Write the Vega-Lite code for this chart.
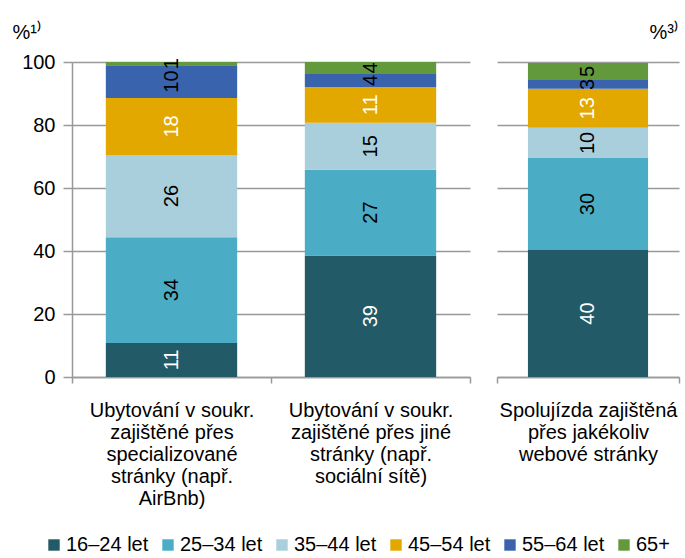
{
  "$schema": "https://vega.github.io/schema/vega-lite/v6.json",
  "padding": {"left": 12, "top": 22, "right": 1, "bottom": 0},
  "autosize": {"type": "pad"},
  "bounds": "flush",
  "spacing": 27,
  "config": {
    "font": "Liberation Sans",
    "view": {"stroke": null},
    "axis": {
      "labelFont": "Liberation Sans",
      "labelFontSize": 20,
      "labelColor": "#000000",
      "titleFont": "Liberation Sans",
      "titleFontSize": 20,
      "titleFontWeight": "normal",
      "titleColor": "#000000",
      "domainColor": "#999999",
      "tickColor": "#999999",
      "gridColor": "#999999",
      "domainWidth": 1.5,
      "tickWidth": 1.5,
      "gridWidth": 1.5
    },
    "legend": {
      "labelFont": "Liberation Sans",
      "labelFontSize": 20,
      "labelColor": "#000000"
    }
  },
  "data": {
    "values": [
      {"panel": "L", "cat": "Ubytování v soukr.|zajištěné přes|specializované|stránky (např.|AirBnb)", "age": "16–24 let", "order": 1, "value": 10.8, "label": "11"},
      {"panel": "L", "cat": "Ubytování v soukr.|zajištěné přes|specializované|stránky (např.|AirBnb)", "age": "25–34 let", "order": 2, "value": 33.6, "label": "34"},
      {"panel": "L", "cat": "Ubytování v soukr.|zajištěné přes|specializované|stránky (např.|AirBnb)", "age": "35–44 let", "order": 3, "value": 26.1, "label": "26"},
      {"panel": "L", "cat": "Ubytování v soukr.|zajištěné přes|specializované|stránky (např.|AirBnb)", "age": "45–54 let", "order": 4, "value": 18.1, "label": "18"},
      {"panel": "L", "cat": "Ubytování v soukr.|zajištěné přes|specializované|stránky (např.|AirBnb)", "age": "55–64 let", "order": 5, "value": 10.4, "label": "10"},
      {"panel": "L", "cat": "Ubytování v soukr.|zajištěné přes|specializované|stránky (např.|AirBnb)", "age": "65+", "order": 6, "value": 1.0, "label": "1"},
      {"panel": "L", "cat": "Ubytování v soukr.|zajištěné přes jiné|stránky (např.|sociální sítě)", "age": "16–24 let", "order": 1, "value": 38.6, "label": "39"},
      {"panel": "L", "cat": "Ubytování v soukr.|zajištěné přes jiné|stránky (např.|sociální sítě)", "age": "25–34 let", "order": 2, "value": 27.2, "label": "27"},
      {"panel": "L", "cat": "Ubytování v soukr.|zajištěné přes jiné|stránky (např.|sociální sítě)", "age": "35–44 let", "order": 3, "value": 14.9, "label": "15"},
      {"panel": "L", "cat": "Ubytování v soukr.|zajištěné přes jiné|stránky (např.|sociální sítě)", "age": "45–54 let", "order": 4, "value": 11.4, "label": "11"},
      {"panel": "L", "cat": "Ubytování v soukr.|zajištěné přes jiné|stránky (např.|sociální sítě)", "age": "55–64 let", "order": 5, "value": 4.1, "label": "4"},
      {"panel": "L", "cat": "Ubytování v soukr.|zajištěné přes jiné|stránky (např.|sociální sítě)", "age": "65+", "order": 6, "value": 3.8, "label": "4"},
      {"panel": "R", "cat": "Spolujízda zajištěná|přes jakékoliv|webové stránky", "age": "16–24 let", "order": 1, "value": 40.3, "label": "40"},
      {"panel": "R", "cat": "Spolujízda zajištěná|přes jakékoliv|webové stránky", "age": "25–34 let", "order": 2, "value": 29.2, "label": "30"},
      {"panel": "R", "cat": "Spolujízda zajištěná|přes jakékoliv|webové stránky", "age": "35–44 let", "order": 3, "value": 9.6, "label": "10"},
      {"panel": "R", "cat": "Spolujízda zajištěná|přes jakékoliv|webové stránky", "age": "45–54 let", "order": 4, "value": 12.4, "label": "13"},
      {"panel": "R", "cat": "Spolujízda zajištěná|přes jakékoliv|webové stránky", "age": "55–64 let", "order": 5, "value": 2.8, "label": "3"},
      {"panel": "R", "cat": "Spolujízda zajištěná|přes jakékoliv|webové stránky", "age": "65+", "order": 6, "value": 5.4, "label": "5"}
    ]
  },
  "hconcat": [
    {
      "width": 398,
      "height": 315,
      "transform": [
        {"filter": "datum.panel == 'L'"},
        {"stack": "value", "groupby": ["cat"], "sort": [{"field": "order"}], "as": ["y0", "y1"]},
        {"calculate": "(datum.y0 + datum.y1) / 2", "as": "ymid"}
      ],
      "encoding": {
        "x": {
          "field": "cat", "type": "nominal", "sort": null, "title": null,
          "scale": {"paddingInner": 0, "paddingOuter": 0},
          "axis": {"labelAngle": 0, "labelExpr": "split(datum.label, '|')", "labelLineHeight": 22, "labelPadding": 17, "labelLimit": 0, "tickBand": "extent", "tickSize": 6}
        }
      },
      "layer": [
        {
          "mark": {"type": "bar", "width": {"band": 0.66}},
          "encoding": {
            "y": {"field": "y0", "type": "quantitative", "scale": {"domain": [0, 100]},
              "axis": {"values": [0, 20, 40, 60, 80, 100], "grid": true, "tickSize": 9, "labelPadding": 8, "title": "%¹⁾", "titleAngle": 0, "titleX": -60, "titleY": -24, "titleAlign": "left", "titleBaseline": "alphabetic"}},
            "y2": {"field": "y1"},
            "color": {"field": "age", "type": "nominal", "sort": null,
              "scale": {"domain": ["16–24 let", "25–34 let", "35–44 let", "45–54 let", "55–64 let", "65+"], "range": ["#225a68", "#4bacc6", "#a9cfdd", "#e2a800", "#3a63ad", "#63993d"]},
              "legend": {"orient": "none", "legendX": -28, "legendY": 473, "direction": "horizontal", "title": null, "symbolType": "square", "symbolSize": 130, "symbolStrokeWidth": 0, "columnPadding": 9, "labelOffset": 2}}
          }
        },
        {
          "mark": {"type": "text", "angle": 270, "fontSize": 20, "font": "Liberation Sans"},
          "encoding": {
            "y": {"field": "ymid", "type": "quantitative"},
            "text": {"field": "label"},
            "color": {"condition": {"test": "datum.age == '16–24 let' || datum.age == '45–54 let'", "value": "#ffffff"}, "value": "#000000"}
          }
        }
      ]
    },
    {
      "width": 182,
      "height": 315,
      "transform": [
        {"filter": "datum.panel == 'R'"},
        {"stack": "value", "groupby": ["cat"], "sort": [{"field": "order"}], "as": ["y0", "y1"]},
        {"calculate": "(datum.y0 + datum.y1) / 2", "as": "ymid"}
      ],
      "encoding": {
        "x": {
          "field": "cat", "type": "nominal", "sort": null, "title": null,
          "scale": {"paddingInner": 0, "paddingOuter": 0},
          "axis": {"labelAngle": 0, "labelExpr": "split(datum.label, '|')", "labelLineHeight": 22, "labelPadding": 17, "labelLimit": 0, "tickBand": "extent", "tickSize": 6}
        }
      },
      "layer": [
        {
          "mark": {"type": "bar", "width": {"band": 0.66}},
          "encoding": {
            "y": {"field": "y0", "type": "quantitative", "scale": {"domain": [0, 100]},
              "axis": {"orient": "right", "values": [0, 20, 40, 60, 80, 100], "grid": true, "labels": false, "ticks": false, "domain": false, "title": "%³⁾", "titleAngle": 0, "titleX": -30, "titleY": -24, "titleAlign": "left", "titleBaseline": "alphabetic"}},
            "y2": {"field": "y1"},
            "color": {"field": "age", "type": "nominal", "sort": null, "legend": null}
          }
        },
        {
          "mark": {"type": "text", "angle": 270, "fontSize": 20, "font": "Liberation Sans"},
          "encoding": {
            "y": {"field": "ymid", "type": "quantitative"},
            "text": {"field": "label"},
            "color": {"condition": {"test": "datum.age == '16–24 let' || datum.age == '45–54 let'", "value": "#ffffff"}, "value": "#000000"}
          }
        }
      ]
    }
  ],
  "resolve": {"scale": {"color": "shared", "y": "independent"}}
}
